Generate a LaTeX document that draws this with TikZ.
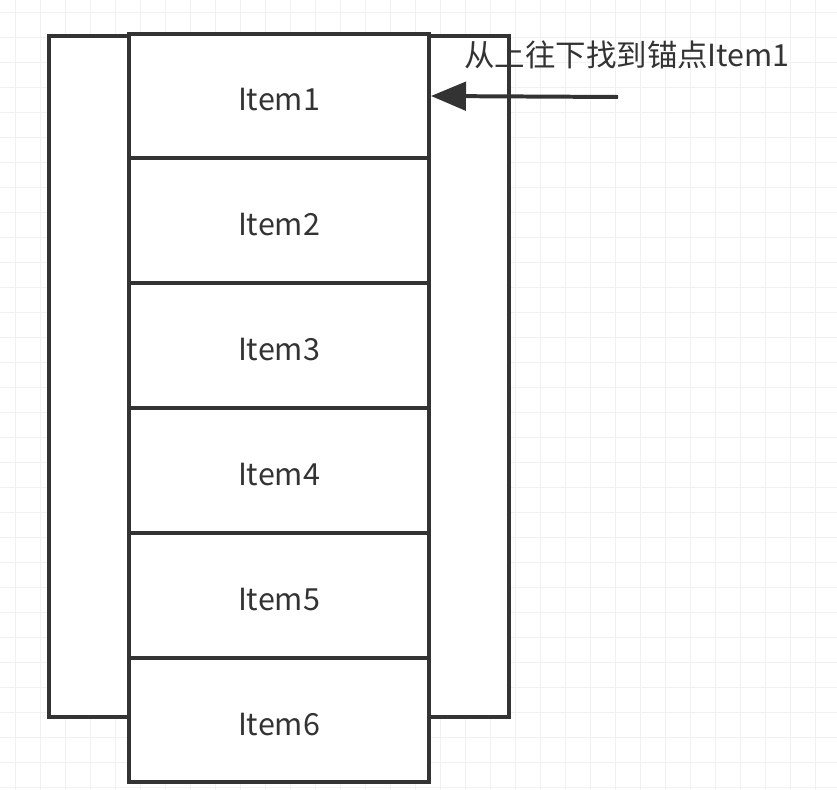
\documentclass[tikz,border=0pt]{standalone}
\usepackage{fontspec}
\newfontfamily\cjk{Noto Sans CJK SC}
\usetikzlibrary{arrows.meta, positioning}
\definecolor{ink}{HTML}{333333}
\definecolor{gridgray}{HTML}{F1F1F1}

\begin{document}
\begin{tikzpicture}[x=0.03cm, y=-0.03cm,
  box/.style={draw=ink, line width=3.4pt, fill=white, inner sep=0pt},
  itembox/.style={box, minimum width=9cm, minimum height=3.744cm,
    text height=0.9cm, text depth=0cm,
    font=\cjk\fontsize{26}{28}\selectfont, text=ink},
  gridline/.style={draw=gridgray, line width=0.5pt},
  pointer/.style={draw=ink, line width=3.4pt,
    -{Triangle[length=1.05cm, width=0.85cm]}}]
\useasboundingbox (0,0) rectangle (837,790);
% faint background grid
\foreach \gx in {15,40,...,840}
  \draw[gridline] (\gx,0) -- (\gx,790);
\foreach \gy in {12,37,...,790}
  \draw[gridline] (0,\gy) -- (837,\gy);
% outer frame
\node[box, minimum width=13.8cm, minimum height=20.43cm] (frame) at (279,376.5) {};
% the list items
\foreach \k in {1,...,6}
  \node[itembox] (item\k) at (279,{96+124.8*(\k-1)}) {Item\k};
% pointer to the anchor
\coordinate (tail) at (618,97);
\draw[pointer] (tail) -- (item1.east);
\node[anchor=west, inner sep=0pt, text=ink, font=\cjk\fontsize{26}{28}\selectfont]
  (note) at (464,55) {从上往下找到锚点Item1};
\end{tikzpicture}
\end{document}
